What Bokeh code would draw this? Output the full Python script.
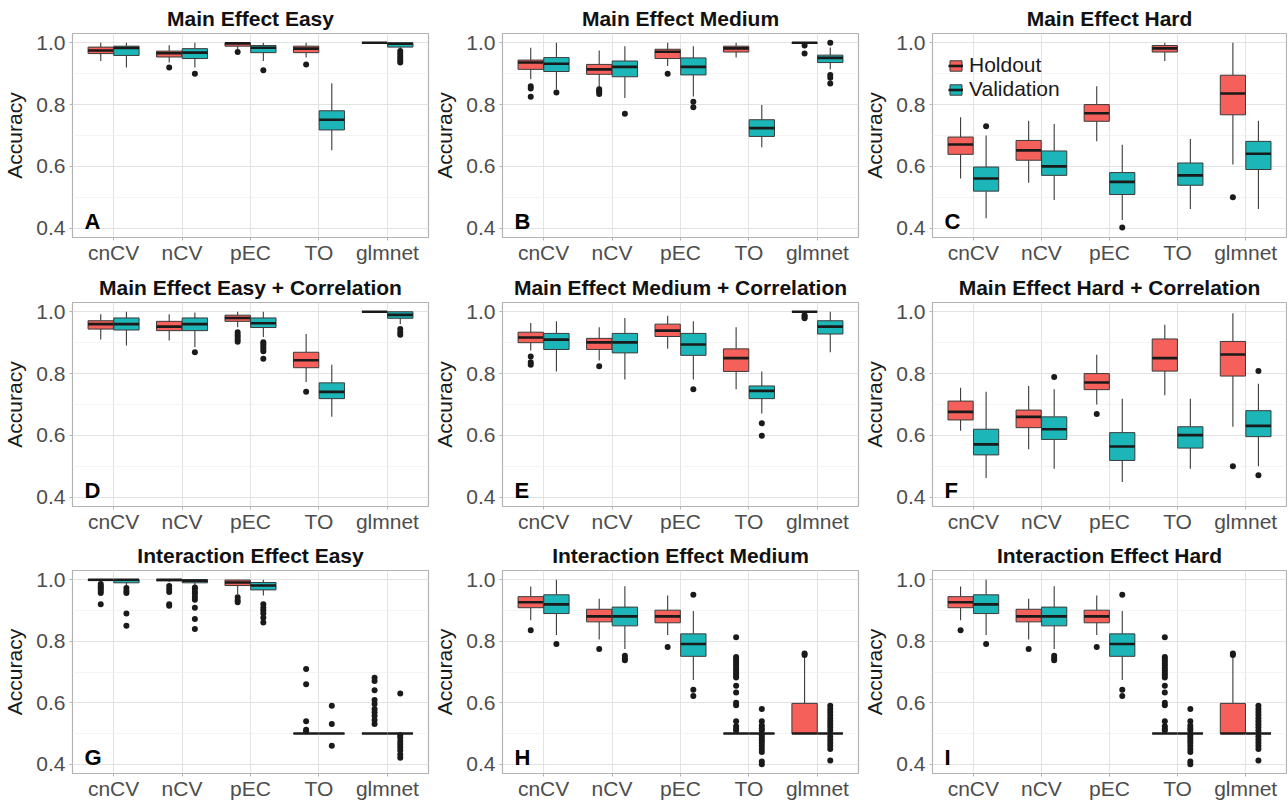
from bokeh.plotting import figure
from bokeh.layouts import gridplot
from bokeh.models import (ColumnDataSource, Range1d, FixedTicker, PrintfTickFormatter,
                          Legend, LegendItem, Label)
from bokeh.transform import dodge
from bokeh.embed import file_html
from bokeh.resources import INLINE

methods = ["cnCV", "nCV", "pEC", "TO", "glmnet"]
groups = ["Holdout", "Validation"]
y_ticks = [0.4, 0.6, 0.8, 1.0]
y_minor = [0.5, 0.7, 0.9]

# box stats per method: (lower whisker, q1, median, q3, upper whisker)
A_holdout = [(0.941, 0.965, 0.975, 0.986, 1.0), (0.936, 0.954, 0.966, 0.973, 0.992),
             (0.979, 0.989, 0.998, 1.0, 1.0), (0.952, 0.968, 0.981, 0.989, 1.0),
             (1.0, 1.0, 1.0, 1.0, 1.0)]
A_holdout_out = [[], [0.92], [0.97], [0.93], []]
A_validation = [(0.92, 0.959, 0.983, 0.989, 1.0), (0.92, 0.949, 0.968, 0.981, 1.0),
                (0.941, 0.968, 0.984, 0.991, 1.0), (0.652, 0.718, 0.751, 0.78, 0.869),
                (0.978, 0.986, 0.997, 1.0, 1.0)]
A_validation_out = [[], [0.90], [0.911], [], [0.973, 0.965, 0.957, 0.95, 0.943, 0.936]]

B_holdout = [(0.882, 0.914, 0.936, 0.944, 0.984), (0.855, 0.898, 0.914, 0.93, 0.975),
             (0.925, 0.949, 0.971, 0.979, 1.0), (0.952, 0.97, 0.982, 0.989, 1.0),
             (0.998, 0.998, 1.0, 1.0, 1.0)]
B_holdout_out = [[0.859, 0.852, 0.825], [0.85, 0.845, 0.841, 0.834], [0.90], [], [0.991, 0.965]]
B_validation = [(0.85, 0.907, 0.932, 0.952, 1.0), (0.821, 0.89, 0.922, 0.941, 0.989),
                (0.826, 0.896, 0.922, 0.951, 0.989), (0.662, 0.697, 0.724, 0.751, 0.799),
                (0.914, 0.936, 0.951, 0.96, 0.985)]
B_validation_out = [[0.839], [0.77], [0.809, 0.791], [], [1.0, 0.896, 0.887, 0.868]]

C_holdout = [(0.561, 0.639, 0.671, 0.695, 0.759), (0.547, 0.62, 0.652, 0.684, 0.748),
             (0.681, 0.746, 0.772, 0.8, 0.859), (0.941, 0.97, 0.982, 0.991, 1.0),
             (0.606, 0.767, 0.836, 0.895, 1.0)]
C_holdout_out = [[], [], [], [], [0.5]]
C_validation = [(0.432, 0.52, 0.561, 0.598, 0.70), (0.491, 0.571, 0.60, 0.65, 0.737),
                (0.427, 0.509, 0.55, 0.58, 0.67), (0.462, 0.539, 0.571, 0.611, 0.689),
                (0.462, 0.59, 0.641, 0.681, 0.748)]
C_validation_out = [[0.73], [], [0.402], [], []]

D_holdout = [(0.91, 0.944, 0.96, 0.971, 0.992), (0.907, 0.939, 0.952, 0.969, 0.992),
             (0.95, 0.969, 0.98, 0.989, 1.0), (0.773, 0.819, 0.843, 0.869, 0.928),
             (1.0, 1.0, 1.0, 1.0, 1.0)]
D_holdout_out = [[], [], [0.934, 0.925, 0.918, 0.91, 0.903], [0.741], []]
D_validation = [(0.891, 0.941, 0.96, 0.98, 1.0), (0.885, 0.939, 0.96, 0.98, 0.998),
                (0.918, 0.949, 0.963, 0.98, 1.0), (0.66, 0.719, 0.741, 0.77, 0.829),
                (0.96, 0.979, 0.99, 1.0, 1.0)]
D_validation_out = [[], [0.869], [0.901, 0.895, 0.888, 0.88, 0.872, 0.848], [], [0.944, 0.934, 0.926]]

E_holdout = [(0.875, 0.90, 0.917, 0.934, 0.964), (0.842, 0.878, 0.901, 0.914, 0.95),
             (0.88, 0.92, 0.939, 0.96, 0.987), (0.749, 0.807, 0.85, 0.88, 0.95),
             (1.0, 1.0, 1.0, 1.0, 1.0)]
E_holdout_out = [[0.855, 0.837, 0.829], [0.824], [], [], [0.989, 0.984, 0.979]]
E_validation = [(0.807, 0.878, 0.91, 0.93, 0.969), (0.781, 0.867, 0.901, 0.93, 0.98),
                (0.781, 0.859, 0.894, 0.93, 0.969), (0.671, 0.719, 0.744, 0.76, 0.807),
                (0.869, 0.928, 0.952, 0.971, 1.0)]
E_validation_out = [[], [], [0.749], [0.639, 0.599], []]

F_holdout = [(0.615, 0.65, 0.676, 0.711, 0.754), (0.555, 0.625, 0.66, 0.682, 0.76),
             (0.70, 0.748, 0.771, 0.80, 0.861), (0.73, 0.808, 0.85, 0.912, 0.958),
             (0.628, 0.792, 0.862, 0.904, 0.995)]
F_holdout_out = [[], [], [0.669], [], [0.5]]
F_validation = [(0.462, 0.537, 0.571, 0.62, 0.741), (0.492, 0.587, 0.62, 0.66, 0.749),
                (0.449, 0.519, 0.564, 0.609, 0.719), (0.492, 0.559, 0.601, 0.628, 0.719),
                (0.50, 0.596, 0.631, 0.68, 0.767)]
F_validation_out = [[], [0.789], [], [], [0.808, 0.471]]

G_holdout = [(0.992, 0.997, 1.0, 1.0, 1.0), (0.992, 0.996, 1.0, 1.0, 1.0),
             (0.954, 0.981, 0.991, 0.999, 1.0), (0.5, 0.5, 0.5, 0.5, 0.5),
             (0.5, 0.5, 0.5, 0.5, 0.5)]
G_holdout_out = [[0.986, 0.98, 0.975, 0.97, 0.963, 0.957, 0.92],
                 [0.98, 0.97, 0.96, 0.92, 0.915],
                 [0.943, 0.933, 0.927],
                 [0.71, 0.66, 0.54, 0.512, 0.507],
                 [0.681, 0.671, 0.641, 0.609, 0.596, 0.58, 0.569, 0.558, 0.544, 0.531]]
G_validation = [(0.98, 0.99, 1.0, 1.0, 1.0), (0.98, 0.99, 0.997, 1.0, 1.0),
                (0.949, 0.967, 0.981, 0.991, 1.0), (0.5, 0.5, 0.5, 0.5, 0.5),
                (0.5, 0.5, 0.5, 0.5, 0.5)]
G_validation_out = [[0.973, 0.963, 0.957, 0.89, 0.85],
                    [0.975, 0.97, 0.96, 0.955, 0.945, 0.935, 0.909, 0.872, 0.84],
                    [0.92, 0.909, 0.9, 0.89, 0.876, 0.861],
                    [0.59, 0.531, 0.46],
                    [0.63, 0.494, 0.486, 0.475, 0.465, 0.455, 0.445, 0.432, 0.421]]

H_holdout = [(0.868, 0.909, 0.927, 0.945, 0.978), (0.806, 0.863, 0.881, 0.904, 0.938),
             (0.82, 0.86, 0.881, 0.901, 0.949), (0.5, 0.5, 0.5, 0.5, 0.5),
             (0.5, 0.5, 0.5, 0.598, 0.75)]
H_holdout_out = [[0.836], [0.775], [0.781],
                 [0.813, 0.749, 0.742, 0.735, 0.727, 0.72, 0.712, 0.705, 0.697, 0.69, 0.682,
                  0.655, 0.633, 0.60, 0.592, 0.54, 0.524, 0.515, 0.51],
                 [0.755, 0.76]]
H_validation = [(0.82, 0.89, 0.92, 0.951, 1.0), (0.775, 0.85, 0.881, 0.911, 0.979),
                (0.674, 0.751, 0.791, 0.824, 0.898), (0.5, 0.5, 0.5, 0.5, 0.5),
                (0.5, 0.5, 0.5, 0.5, 0.5)]
H_validation_out = [[0.791], [0.753, 0.745, 0.738], [0.951, 0.642, 0.622],
                    [0.58, 0.54, 0.526, 0.517, 0.51, 0.494, 0.486, 0.478, 0.47, 0.46, 0.45,
                     0.44, 0.409, 0.40],
                    [0.59, 0.58, 0.57, 0.56, 0.55, 0.54, 0.53, 0.52, 0.51, 0.49, 0.48, 0.47,
                     0.46, 0.45, 0.412]]

I_holdout = [(0.868, 0.909, 0.927, 0.945, 0.978), (0.806, 0.863, 0.881, 0.904, 0.938),
             (0.82, 0.86, 0.881, 0.901, 0.949), (0.5, 0.5, 0.5, 0.5, 0.5),
             (0.5, 0.5, 0.5, 0.598, 0.75)]
I_holdout_out = [[0.836], [0.775], [0.781],
                 [0.813, 0.749, 0.742, 0.735, 0.727, 0.72, 0.712, 0.705, 0.697, 0.69, 0.682,
                  0.655, 0.633, 0.60, 0.592, 0.54, 0.524, 0.515, 0.51],
                 [0.755, 0.76]]
I_validation = [(0.82, 0.89, 0.92, 0.951, 1.0), (0.775, 0.85, 0.881, 0.911, 0.979),
                (0.674, 0.751, 0.791, 0.824, 0.898), (0.5, 0.5, 0.5, 0.5, 0.5),
                (0.5, 0.5, 0.5, 0.5, 0.5)]
I_validation_out = [[0.791], [0.753, 0.745, 0.738], [0.951, 0.642, 0.622],
                    [0.58, 0.54, 0.526, 0.517, 0.51, 0.494, 0.486, 0.478, 0.47, 0.46, 0.45,
                     0.44, 0.409, 0.40],
                    [0.59, 0.58, 0.57, 0.56, 0.55, 0.54, 0.53, 0.52, 0.51, 0.49, 0.48, 0.47,
                     0.46, 0.45, 0.412]]

titles = ["Main Effect Easy", "Main Effect Medium", "Main Effect Hard",
          "Main Effect Easy + Correlation", "Main Effect Medium + Correlation",
          "Main Effect Hard + Correlation",
          "Interaction Effect Easy", "Interaction Effect Medium", "Interaction Effect Hard"]
letters = ["A", "B", "C", "D", "E", "F", "G", "H", "I"]

HOLD_COLOR = "#F5605A"
VAL_COLOR = "#1CB6B8"
FONT = "Liberation Sans"
OFFSET = 0.1875
BOX_W = 0.37

col_widths = [430, 430, 427]
col_lefts = [70, 70, 68]
row_heights = [268, 269, 265]
row_tops = [33, 34, 33]
FRAME_W = 358
FRAME_H = 204


def add_group(p, stats, outliers, offset, color):
    src = ColumnDataSource(dict(
        pos=list(range(1, len(methods) + 1)),
        low=[s[0] for s in stats], q1=[s[1] for s in stats], med=[s[2] for s in stats],
        q3=[s[3] for s in stats], high=[s[4] for s in stats]))
    xd = dodge("pos", offset)
    p.segment(x0=xd, y0="q3", x1=xd, y1="high", source=src, line_color="#3A3A3A", line_width=1.1)
    p.segment(x0=xd, y0="low", x1=xd, y1="q1", source=src, line_color="#3A3A3A", line_width=1.1)
    box = p.vbar(x=xd, width=BOX_W, bottom="q1", top="q3", source=src,
                 fill_color=color, line_color="#3A3A3A", line_width=1)
    med = p.segment(x0=dodge("pos", offset - BOX_W / 2), y0="med",
                    x1=dodge("pos", offset + BOX_W / 2), y1="med", source=src,
                    line_color="#1A1A1A", line_width=2.6)
    ox, oy = [], []
    for i, vals in enumerate(outliers):
        for v in vals:
            ox.append(i + 1)
            oy.append(v)
    osrc = ColumnDataSource(dict(pos=ox, val=oy))
    p.scatter(x=dodge("pos", offset), y="val", source=osrc, size=6,
              fill_color="#1A1A1A", line_color=None)
    return box, med


def panel(k, hold, hold_out, val, val_out, legend=False):
    r, c = divmod(k, 3)
    w, h = col_widths[c], row_heights[r]
    left, top = col_lefts[c], row_tops[r]
    p = figure(width=w, height=h, output_backend="svg", toolbar_location=None,
               x_range=Range1d(0.4, 5.6), y_range=Range1d(0.37, 1.03),
               min_border_left=left, min_border_right=w - left - FRAME_W,
               min_border_top=top, min_border_bottom=h - top - FRAME_H)
    p.background_fill_color = "white"
    p.border_fill_color = "white"
    p.outline_line_color = "#B3B3B3"
    p.outline_line_width = 1.2

    p.title.text = titles[k]
    p.title.align = "center"
    p.title.text_font = FONT
    p.title.text_font_size = "21px"
    p.title.text_font_style = "bold"
    p.title.text_color = "#111111"
    p.title.standoff = 7

    p.xaxis.ticker = FixedTicker(ticks=list(range(1, len(methods) + 1)))
    p.xaxis.major_label_overrides = {i + 1: m for i, m in enumerate(methods)}
    p.yaxis.ticker = FixedTicker(ticks=y_ticks, minor_ticks=y_minor)
    p.yaxis.formatter = PrintfTickFormatter(format="%.1f")
    p.yaxis.axis_label = "Accuracy"
    for ax in (p.xaxis[0], p.yaxis[0]):
        ax.axis_line_color = None
        ax.major_tick_line_color = "#B3B3B3"
        ax.major_tick_in = 0
        ax.major_tick_out = 3
        ax.minor_tick_line_color = None
        ax.major_label_text_font = FONT
        ax.major_label_text_font_size = "21px"
        ax.major_label_text_color = "#4D4D4D"
    p.xaxis.major_label_standoff = 0
    p.yaxis.major_label_standoff = 3
    p.yaxis.axis_label_text_font = FONT
    p.yaxis.axis_label_text_font_size = "21px"
    p.yaxis.axis_label_text_font_style = "normal"
    p.yaxis.axis_label_text_color = "#1A1A1A"
    p.yaxis.axis_label_standoff = 7

    p.xgrid.grid_line_color = "#E3E3E3"
    p.xgrid.grid_line_width = 1
    p.ygrid.grid_line_color = "#E3E3E3"
    p.ygrid.grid_line_width = 1
    p.ygrid.minor_grid_line_color = "#F1F1F1"
    p.ygrid.minor_grid_line_width = 0.8

    bh, mh = add_group(p, hold, hold_out, -OFFSET, HOLD_COLOR)
    bv, mv = add_group(p, val, val_out, OFFSET, VAL_COLOR)

    p.add_layout(Label(x=0.575, y=0.4225, text=letters[k], text_font=FONT,
                       text_font_size="22px", text_font_style="bold",
                       text_color="#000000", text_baseline="alphabetic"))

    if legend:
        lg = Legend(items=[LegendItem(label=groups[0], renderers=[bh, mh]),
                           LegendItem(label=groups[1], renderers=[bv, mv])],
                    location=(16, 136), orientation="vertical",
                    background_fill_alpha=0, border_line_color=None,
                    label_text_font=FONT, label_text_font_size="21px",
                    label_text_color="#1A1A1A", glyph_width=15, glyph_height=13,
                    label_height=21, spacing=-3, padding=0, margin=0, label_standoff=6)
        p.add_layout(lg)
    return p


data = [
    (A_holdout, A_holdout_out, A_validation, A_validation_out),
    (B_holdout, B_holdout_out, B_validation, B_validation_out),
    (C_holdout, C_holdout_out, C_validation, C_validation_out),
    (D_holdout, D_holdout_out, D_validation, D_validation_out),
    (E_holdout, E_holdout_out, E_validation, E_validation_out),
    (F_holdout, F_holdout_out, F_validation, F_validation_out),
    (G_holdout, G_holdout_out, G_validation, G_validation_out),
    (H_holdout, H_holdout_out, H_validation, H_validation_out),
    (I_holdout, I_holdout_out, I_validation, I_validation_out),
]

figs = [panel(k, *d, legend=(k == 2)) for k, d in enumerate(data)]
grid = gridplot([figs[0:3], figs[3:6], figs[6:9]], toolbar_location=None)

open("out.html", "w").write(file_html(grid, INLINE))
